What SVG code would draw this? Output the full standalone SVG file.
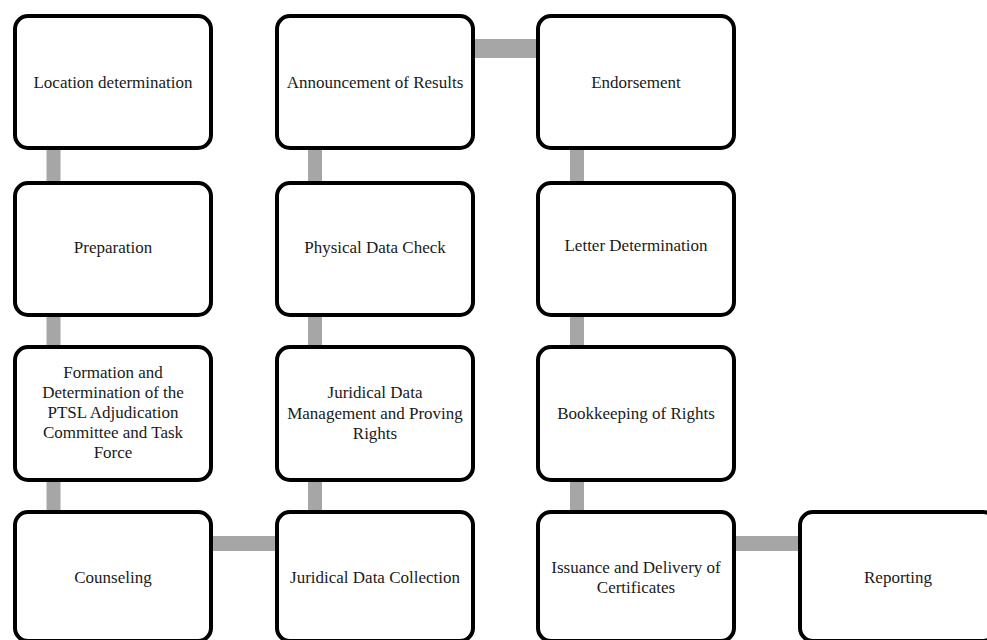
<svg xmlns="http://www.w3.org/2000/svg" width="987" height="640" viewBox="0 0 987 640">
<style>
.box{fill:#fff;stroke:#000;stroke-width:4}
.con{fill:#a6a6a6}
text{font-family:"Liberation Serif","Times New Roman",serif;font-size:17px;fill:#1a1a1a;text-anchor:middle}
</style>
<rect width="987" height="640" fill="#fff"/>
<g id="connectors">
<rect class="con" x="46.5" y="140" width="14" height="50"/>
<rect class="con" x="46.5" y="305" width="14" height="50"/>
<rect class="con" x="46.5" y="470" width="14" height="50"/>
<rect class="con" x="308" y="140" width="14" height="50"/>
<rect class="con" x="308" y="305" width="14" height="50"/>
<rect class="con" x="308" y="470" width="14" height="50"/>
<rect class="con" x="570" y="140" width="14" height="50"/>
<rect class="con" x="570" y="305" width="14" height="50"/>
<rect class="con" x="570" y="470" width="14" height="50"/>
<rect class="con" x="200" y="536" width="90" height="15"/>
<rect class="con" x="460" y="39" width="90" height="19"/>
<rect class="con" x="725" y="536" width="90" height="15"/>
</g>
<g id="n1"><rect class="box" x="15" y="16" width="196" height="132" rx="13"/><text x="113" y="88">Location determination</text></g>
<g id="n2"><rect class="box" x="15" y="183" width="196" height="132" rx="13"/><text x="113" y="253">Preparation</text></g>
<g id="n3"><rect class="box" x="15" y="347" width="196" height="133" rx="13"/><text x="113" y="378">Formation and</text><text x="113" y="398">Determination of the</text><text x="113" y="418">PTSL Adjudication</text><text x="113" y="438">Committee and Task</text><text x="113" y="458">Force</text></g>
<g id="n4"><rect class="box" x="15" y="512" width="196" height="129" rx="13"/><text x="113" y="583">Counseling</text></g>
<g id="n5"><rect class="box" x="277" y="16" width="196" height="132" rx="13"/><text x="375" y="88">Announcement of Results</text></g>
<g id="n6"><rect class="box" x="277" y="183" width="196" height="132" rx="13"/><text x="375" y="253">Physical Data Check</text></g>
<g id="n7"><rect class="box" x="277" y="347" width="196" height="133" rx="13"/><text x="375" y="398">Juridical Data</text><text x="375" y="419">Management and Proving</text><text x="375" y="439">Rights</text></g>
<g id="n8"><rect class="box" x="277" y="512" width="196" height="129" rx="13"/><text x="375" y="583">Juridical Data Collection</text></g>
<g id="n9"><rect class="box" x="538" y="16" width="196" height="132" rx="13"/><text x="636" y="88">Endorsement</text></g>
<g id="n10"><rect class="box" x="538" y="183" width="196" height="132" rx="13"/><text x="636" y="251">Letter Determination</text></g>
<g id="n11"><rect class="box" x="538" y="347" width="196" height="133" rx="13"/><text x="636" y="419">Bookkeeping of Rights</text></g>
<g id="n12"><rect class="box" x="538" y="512" width="196" height="129" rx="13"/><text x="636" y="573">Issuance and Delivery of</text><text x="636" y="593">Certificates</text></g>
<g id="n13"><rect class="box" x="800" y="512" width="196" height="129" rx="13"/><text x="898" y="583">Reporting</text></g>
</svg>
